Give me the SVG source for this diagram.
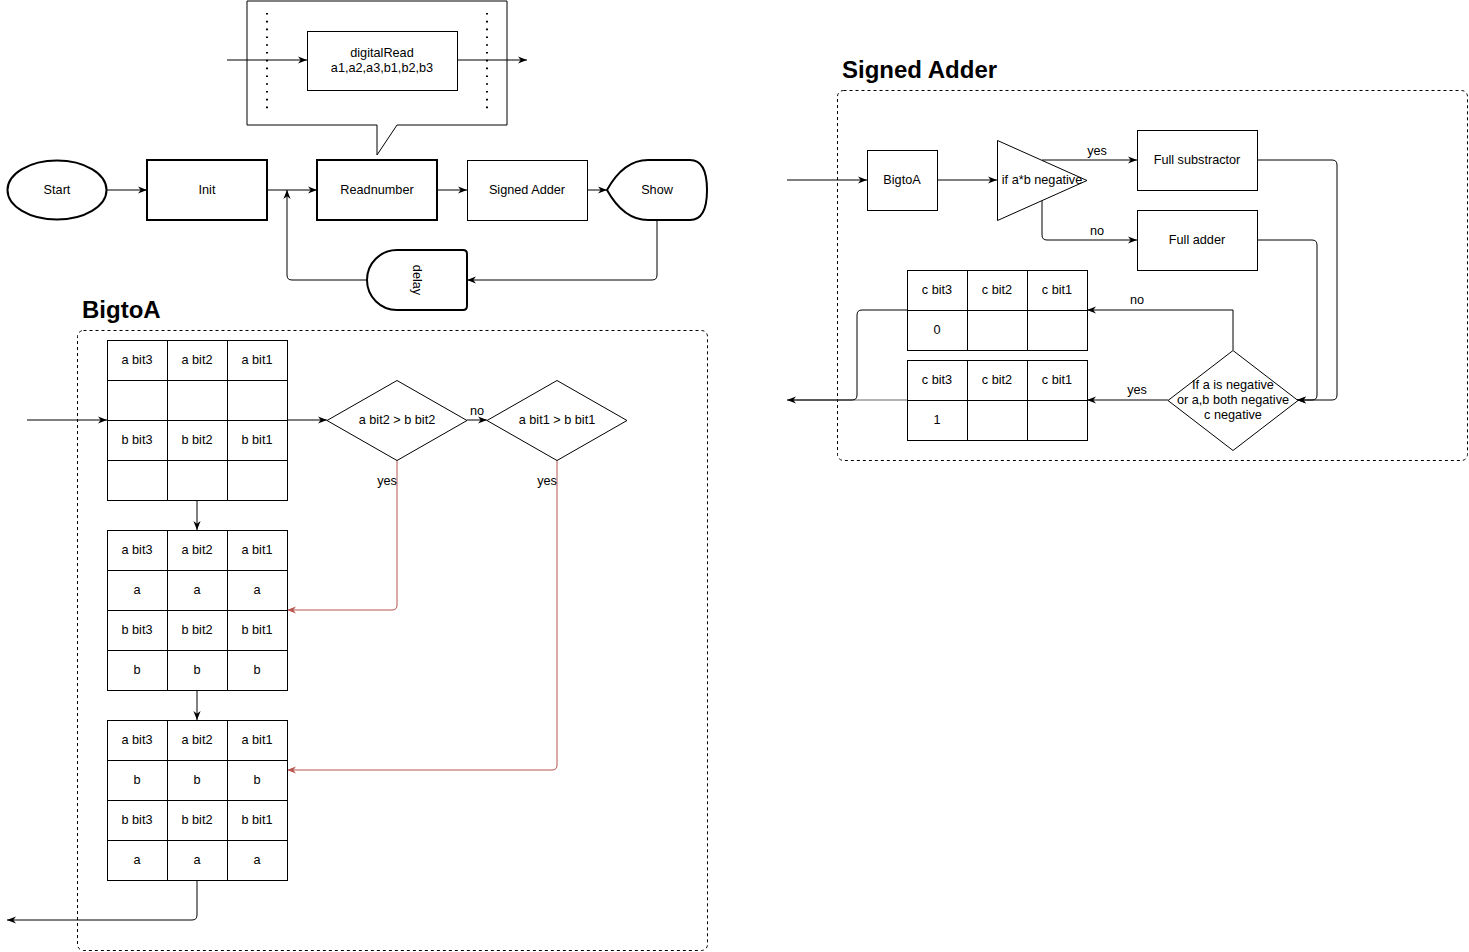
<svg xmlns="http://www.w3.org/2000/svg" width="1469" height="952" viewBox="0 0 1469 952">
<defs>
<style>
.t{font-family:"Liberation Sans",Arial,sans-serif;font-size:12.7px;fill:#000;text-anchor:middle;dominant-baseline:central}
.title{font-family:"Liberation Sans",Arial,sans-serif;font-size:24px;font-weight:bold;fill:#000}
.s{fill:#fff;stroke:#000;stroke-width:1}
.thick{fill:#fff;stroke:#000;stroke-width:2}
.g{fill:none;stroke:#000;stroke-width:1}
.c{fill:none;stroke:#000;stroke-width:1;marker-end:url(#arr)}
.r{fill:none;stroke:#b85450;stroke-width:1;marker-end:url(#arrR)}
.dash{fill:none;stroke:#000;stroke-width:1;stroke-dasharray:3 3}
.dot{fill:none;stroke:#000;stroke-width:2;stroke-dasharray:1.6 6.2}
</style>
<marker id="arr" viewBox="0 0 10 10" refX="10" refY="5" markerWidth="9" markerHeight="9" markerUnits="userSpaceOnUse" orient="auto"><path d="M0,1 L10,5 L0,9 L3,5 Z" fill="#000"/></marker>
<marker id="arrR" viewBox="0 0 10 10" refX="10" refY="5" markerWidth="9" markerHeight="9" markerUnits="userSpaceOnUse" orient="auto"><path d="M0,1 L10,5 L0,9 L3,5 Z" fill="#b85450"/></marker>
</defs>
<rect width="1469" height="952" fill="#fff"/>

<!-- containers -->
<g id="bigtoa-container">
<text class="title" x="82" y="318">BigtoA</text>
<rect class="dash" x="77.5" y="330.5" width="630" height="620" rx="6"/>
</g>
<g id="signed-adder-container">
<text class="title" x="842" y="78">Signed Adder</text>
<rect class="dash" x="837.5" y="90.5" width="630" height="370" rx="6"/>
</g>
<g id="callout">
<path class="s" d="M247,1 L507,1 L507,125 L397,125 L377,155 L377,125 L247,125 Z"/>
<line class="dot" x1="267" y1="13" x2="267" y2="111"/>
<line class="dot" x1="487" y1="13" x2="487" y2="111"/>
</g>

<!-- connectors -->
<g id="connectors">
<path class="c" d="M107,190 L147,190"/>
<path class="c" d="M267,190 L317,190"/>
<path class="c" d="M437,190 L467,190"/>
<path class="c" d="M587,190 L607,190"/>
<path class="c" d="M657,220 L657,275 Q657,280 652,280 L467,280"/>
<path class="c" d="M367,280 L292,280 Q287,280 287,275 L287,190"/>
<path class="c" d="M227,60 L307,60"/>
<path class="c" d="M457,60 L527,60"/>

<path class="c" d="M787,180 L867,180"/>
<path class="c" d="M937,180 L997,180"/>
<path class="c" d="M1042,160 L1137,160"/>
<path class="c" d="M1042,200 L1042,235 Q1042,240 1047,240 L1137,240"/>
<path class="c" d="M1257,160 L1332,160 Q1337,160 1337,165 L1337,395 Q1337,400 1332,400 L1297,400"/>
<path class="c" d="M1257,240 L1312,240 Q1317,240 1317,245 L1317,395 Q1317,400 1312,400 L1297,400"/>
<path class="c" d="M1233,350 L1233,310 L1087,310"/>
<path class="c" d="M1168,400 L1087,400"/>
<path fill="none" stroke="#666" stroke-width="1" d="M907,400 L790,400"/>
<path class="c" d="M907,310 L862,310 Q857,310 857,315 L857,395 Q857,400 852,400 L787,400"/>

<path class="c" d="M27,420 L107,420"/>
<path class="c" d="M287,420 L327,420"/>
<path class="c" d="M467,420 L487,420"/>
<path class="r" d="M397,460 L397,605 Q397,610 392,610 L287,610"/>
<path class="r" d="M557,460 L557,765 Q557,770 552,770 L287,770"/>
<path class="c" d="M197,500 L197,530"/>
<path class="c" d="M197,690 L197,720"/>
<path class="c" d="M197,880 L197,915 Q197,920 192,920 L7,920"/>

<text class="t" x="1097" y="151">yes</text>
<text class="t" x="1097" y="231">no</text>
<text class="t" x="1137" y="300">no</text>
<text class="t" x="1137" y="390">yes</text>
<text class="t" x="477" y="411">no</text>
<text class="t" x="387" y="481">yes</text>
<text class="t" x="547" y="481">yes</text>
</g>

<!-- top flow -->
<g id="digitalread">
<rect class="s" x="307.5" y="31.5" width="150" height="59"/>
<text class="t" x="382" y="53">digitalRead</text>
<text class="t" x="382" y="68">a1,a2,a3,b1,b2,b3</text>
</g>
<g id="start">
<ellipse class="thick" cx="57" cy="190" rx="49.5" ry="29.5"/>
<text class="t" x="57" y="190">Start</text>
</g>
<g id="init">
<rect class="thick" x="147" y="160" width="120" height="60"/>
<text class="t" x="207" y="190">Init</text>
</g>
<g id="readnumber">
<rect class="thick" x="317" y="160" width="120" height="60"/>
<text class="t" x="377" y="190">Readnumber</text>
</g>
<g id="signed-adder">
<rect class="s" x="467.5" y="160.5" width="120" height="60"/>
<text class="t" x="527" y="190">Signed Adder</text>
</g>
<g id="show">
<path class="thick" d="M607,190 C617,172 630,160 648,160 L690,160 Q707,160 707,190 Q707,220 690,220 L648,220 C630,220 617,208 607,190 Z"/>
<text class="t" x="657" y="190">Show</text>
</g>
<g id="delay">
<path class="thick" d="M397,250 L463,250 Q467,250 467,254 L467,306 Q467,310 463,310 L397,310 A30,30 0 0 1 397,250 Z"/>
<text class="t" transform="translate(417,280) rotate(90)" x="0" y="0">delay</text>
</g>

<!-- Signed adder nodes -->
<g id="sa-bigtoa">
<rect class="s" x="867.5" y="150.5" width="70" height="60"/>
<text class="t" x="902" y="180">BigtoA</text>
</g>
<g id="sa-triangle">
<polygon class="s" points="997.5,140.5 997.5,220.5 1087,180.5"/>
<text class="t" x="1042" y="180">if a*b negative</text>
</g>
<g id="full-sub">
<rect class="s" x="1137.5" y="130.5" width="120" height="60"/>
<text class="t" x="1197" y="160">Full substractor</text>
</g>
<g id="full-adder">
<rect class="s" x="1137.5" y="210.5" width="120" height="60"/>
<text class="t" x="1197" y="240">Full adder</text>
</g>
<g id="sa-diamond">
<polygon class="s" points="1233,350.5 1298,400.5 1233,450.5 1168,400.5"/>
<text class="t" x="1233" y="385">If a is negative</text>
<text class="t" x="1233" y="400">or a,b both negative</text>
<text class="t" x="1233" y="415">c negative</text>
</g>
<g id="c-table-0">
<rect class="s" x="907.5" y="270.5" width="180" height="80"/>
<path class="g" d="M967.5,270.5 V350.5 M1027.5,270.5 V350.5 M907.5,310.5 H1087.5"/>
<text class="t" x="937" y="290">c bit3</text>
<text class="t" x="997" y="290">c bit2</text>
<text class="t" x="1057" y="290">c bit1</text>
<text class="t" x="937" y="330">0</text>
</g>
<g id="c-table-1">
<rect class="s" x="907.5" y="360.5" width="180" height="80"/>
<path class="g" d="M967.5,360.5 V440.5 M1027.5,360.5 V440.5 M907.5,400.5 H1087.5"/>
<text class="t" x="937" y="380">c bit3</text>
<text class="t" x="997" y="380">c bit2</text>
<text class="t" x="1057" y="380">c bit1</text>
<text class="t" x="937" y="420">1</text>
</g>

<!-- BigtoA nodes -->
<g id="table-a">
<rect class="s" x="107.5" y="340.5" width="180" height="160"/>
<path class="g" d="M167.5,340.5 V500.5 M227.5,340.5 V500.5 M107.5,380.5 H287.5 M107.5,420.5 H287.5 M107.5,460.5 H287.5"/>
<text class="t" x="137" y="360">a bit3</text>
<text class="t" x="197" y="360">a bit2</text>
<text class="t" x="257" y="360">a bit1</text>
<text class="t" x="137" y="440">b bit3</text>
<text class="t" x="197" y="440">b bit2</text>
<text class="t" x="257" y="440">b bit1</text>
</g>
<g id="table-b">
<rect class="s" x="107.5" y="530.5" width="180" height="160"/>
<path class="g" d="M167.5,530.5 V690.5 M227.5,530.5 V690.5 M107.5,570.5 H287.5 M107.5,610.5 H287.5 M107.5,650.5 H287.5"/>
<text class="t" x="137" y="550">a bit3</text>
<text class="t" x="197" y="550">a bit2</text>
<text class="t" x="257" y="550">a bit1</text>
<text class="t" x="137" y="590">a</text>
<text class="t" x="197" y="590">a</text>
<text class="t" x="257" y="590">a</text>
<text class="t" x="137" y="630">b bit3</text>
<text class="t" x="197" y="630">b bit2</text>
<text class="t" x="257" y="630">b bit1</text>
<text class="t" x="137" y="670">b</text>
<text class="t" x="197" y="670">b</text>
<text class="t" x="257" y="670">b</text>
</g>
<g id="table-c">
<rect class="s" x="107.5" y="720.5" width="180" height="160"/>
<path class="g" d="M167.5,720.5 V880.5 M227.5,720.5 V880.5 M107.5,760.5 H287.5 M107.5,800.5 H287.5 M107.5,840.5 H287.5"/>
<text class="t" x="137" y="740">a bit3</text>
<text class="t" x="197" y="740">a bit2</text>
<text class="t" x="257" y="740">a bit1</text>
<text class="t" x="137" y="780">b</text>
<text class="t" x="197" y="780">b</text>
<text class="t" x="257" y="780">b</text>
<text class="t" x="137" y="820">b bit3</text>
<text class="t" x="197" y="820">b bit2</text>
<text class="t" x="257" y="820">b bit1</text>
<text class="t" x="137" y="860">a</text>
<text class="t" x="197" y="860">a</text>
<text class="t" x="257" y="860">a</text>
</g>
<g id="diamond-1">
<polygon class="s" points="397,380.5 467,420.5 397,460.5 327,420.5"/>
<text class="t" x="397" y="420">a bit2 &gt; b bit2</text>
</g>
<g id="diamond-2">
<polygon class="s" points="557,380.5 627,420.5 557,460.5 487,420.5"/>
<text class="t" x="557" y="420">a bit1 &gt; b bit1</text>
</g>
</svg>
